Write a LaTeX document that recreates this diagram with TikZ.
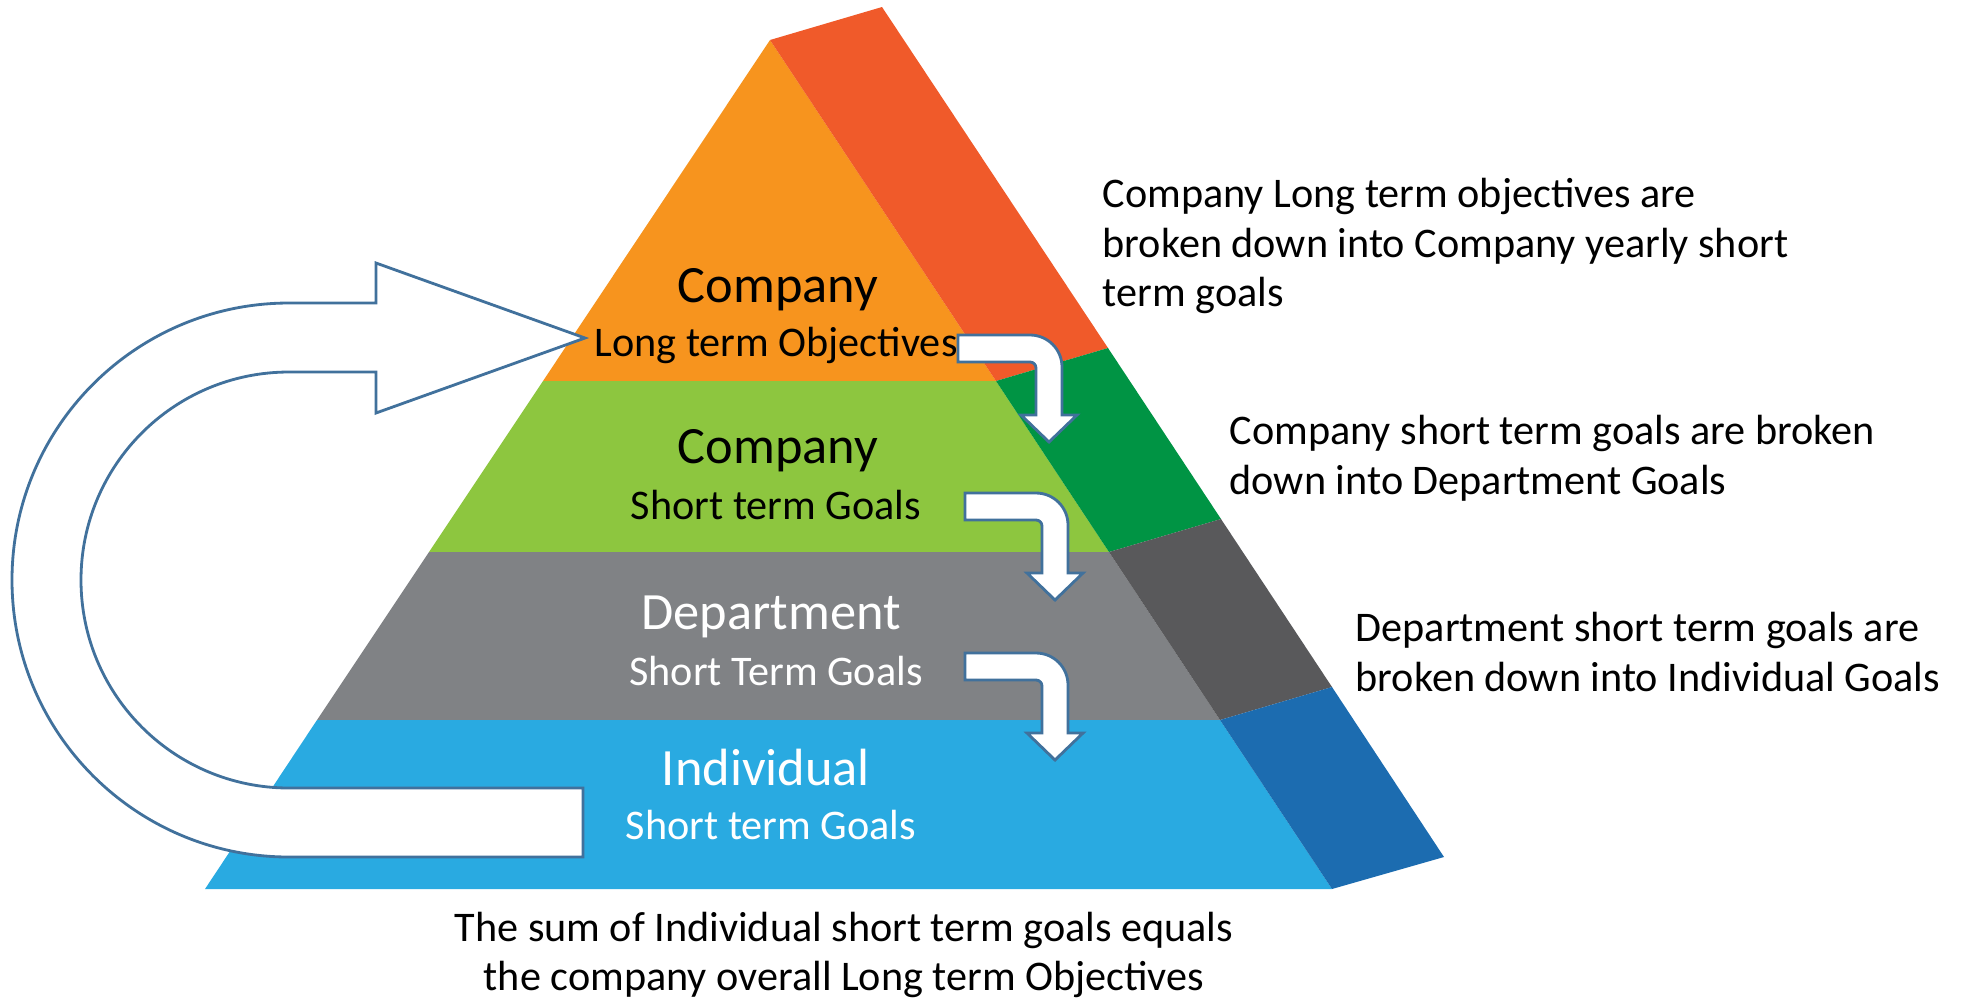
\documentclass[tikz,border=0pt]{standalone}
\usepackage{fontspec}
\setmainfont{Carlito}

\definecolor{orangefront}{RGB}{247,148,30}
\definecolor{orangeside}{RGB}{240,90,42}
\definecolor{greenfront}{RGB}{141,198,63}
\definecolor{greenside}{RGB}{0,148,68}
\definecolor{grayfront}{RGB}{128,130,133}
\definecolor{grayside}{RGB}{89,89,91}
\definecolor{bluefront}{RGB}{41,170,225}
\definecolor{blueside}{RGB}{28,108,176}
\definecolor{arrowline}{RGB}{65,113,156}

\tikzset{
  blockarrow/.style={draw=arrowline, fill=white, line width=0.8pt, line join=miter},
  bigtext/.style={font=\fontsize{14.9}{18}\selectfont, inner sep=0pt},
  smalltext/.style={font=\fontsize{12}{14.1}\selectfont, inner sep=0pt},
  note/.style={font=\fontsize{12}{14.1}\selectfont, inner sep=0pt, align=left, anchor=west},
}

% bent arrow: #1,#2 = top left of shaft, #3 = left side of the drop, #4 = base of the head
\newcommand{\bentarrow}[4]{%
  \draw[blockarrow] (#1,#2) -- ({#3-6},#2)
    .. controls ({#3+11.7},#2) and ({#3+26},{#2+14.3}) .. ({#3+26},{#2+32})
    -- ({#3+26},#4) -- ({#3+41},#4) -- ({#3+13},{#4+27}) -- ({#3-15},#4) -- (#3,#4)
    -- (#3,{#2+33}) .. controls (#3,{#2+29.7}) and ({#3-2.7},{#2+27}) .. ({#3-6},{#2+27})
    -- (#1,{#2+27}) -- cycle;}

\begin{document}
\begin{tikzpicture}[x=0.01cm, y=-0.01cm]
  \useasboundingbox (0,0) rectangle (1973,999);

  % front face, one band per level
  \fill[orangefront] (770,40) -- (996,381) -- (543,381) -- cycle;
  \fill[greenfront] (543,381) -- (996,381) -- (1109,552) -- (429,552) -- cycle;
  \fill[grayfront] (429,552) -- (1109,552) -- (1220,720) -- (317,720) -- cycle;
  \fill[bluefront] (317,720) -- (1220,720) -- (1332,889) -- (205,889) -- cycle;

  % side face
  \fill[orangeside] (770,40) -- (882,7) -- (1108,348) -- (996,381) -- cycle;
  \fill[greenside] (996,381) -- (1108,348) -- (1221,519) -- (1109,552) -- cycle;
  \fill[grayside] (1109,552) -- (1221,519) -- (1332,687) -- (1220,720) -- cycle;
  \fill[blueside] (1220,720) -- (1332,687) -- (1444,857) -- (1332,889) -- cycle;

  % feedback arrow from the bottom level back to the top
  \draw[blockarrow] (583,857) -- (289,857)
    .. controls (136,857) and (12,733) .. (12,580)
    .. controls (12,427) and (136,303) .. (289,303)
    -- (376,303) -- (376,263) -- (585,338) -- (376,413) -- (376,372) -- (289,372)
    .. controls (174,372) and (81,465) .. (81,580)
    .. controls (81,695) and (174,788) .. (289,788)
    -- (583,788) -- cycle;

  \node[bigtext] (L1) at (778,290) {Company};
  \node[smalltext] (L1b) at (776,345) {Long term Objectives};
  \node[bigtext] (L2) at (778,451) {Company};
  \node[smalltext] (L2b) at (776,505) {Short term Goals};
  \node[bigtext, white] (L3) at (771,617) {Department};
  \node[smalltext, white] (L3b) at (776,671) {Short Term Goals};
  \node[bigtext, white] (L4) at (766,767) {Individual};
  \node[smalltext, white] (L4b) at (771,825) {Short term Goals};

  \bentarrow{958}{335}{1036}{415}
  \bentarrow{965}{493}{1042}{573}
  \bentarrow{965}{653}{1042}{733}

  \node[note] (N1) at (1102,246) {Company Long term objectives are\\broken down into Company yearly short\\term goals};
  \node[note] (N2) at (1229,458) {Company short term goals are broken\\down into Department Goals};
  \node[note] (N3) at (1355,652) {Department short term goals are\\broken down into Individual Goals};
  \node[note, anchor=center, align=center] (N4) at (844,955) {The sum of Individual short term goals equals\\the company overall Long term Objectives};
\end{tikzpicture}
\end{document}
